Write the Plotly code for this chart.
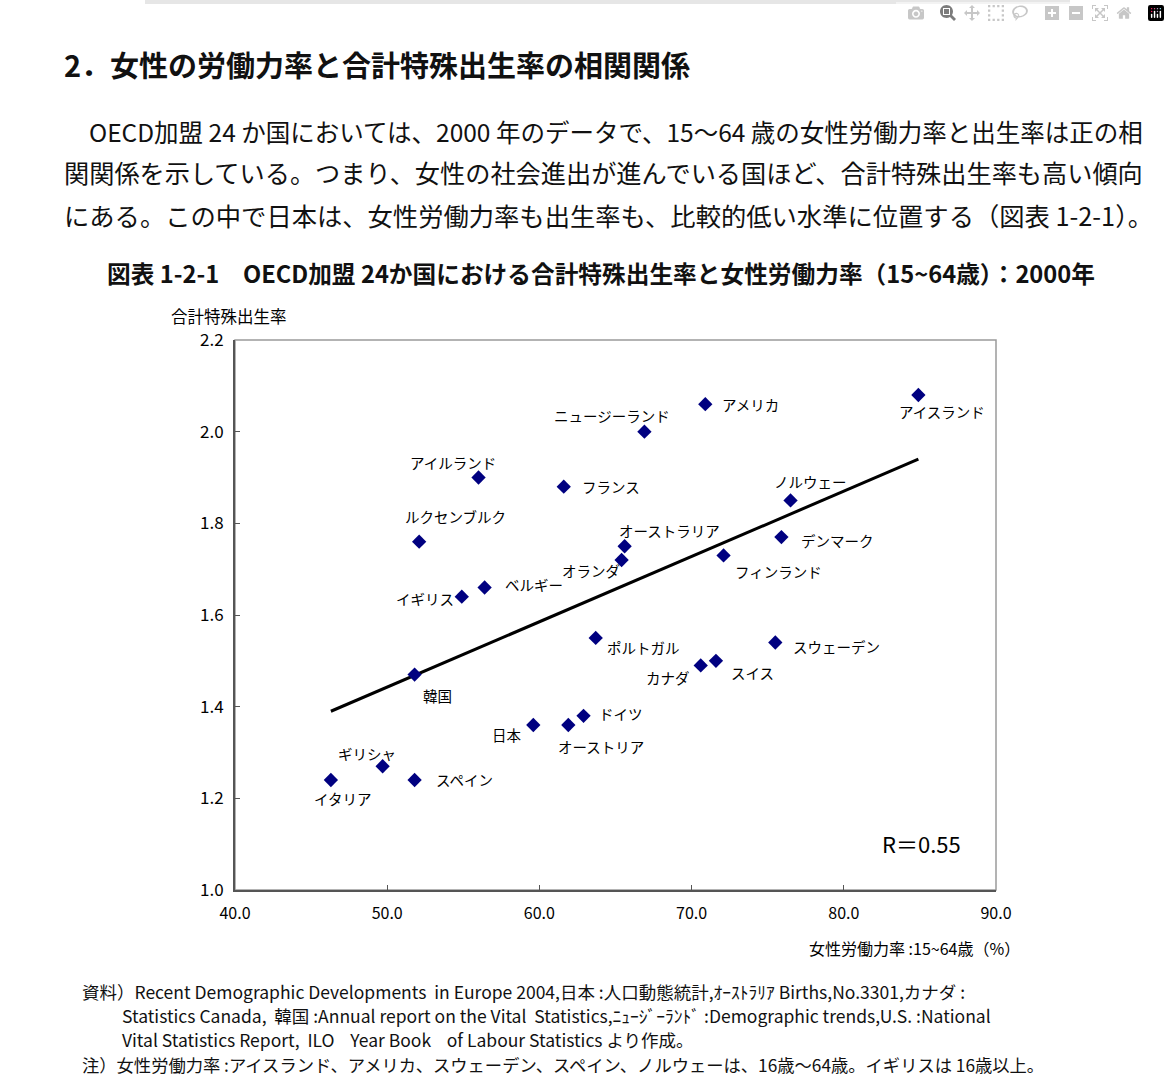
"""
OECD 24 countries: total fertility rate vs female labour force participation (2000).
"""

import plotly.graph_objects as go

# --- data ---------------------------------------------------------------------
countries = [
    "アイスランド", "アメリカ", "ニュージーランド", "アイルランド", "フランス",
    "ノルウェー", "デンマーク", "ルクセンブルク", "オーストラリア", "オランダ",
    "フィンランド", "ベルギー", "イギリス", "ポルトガル", "スウェーデン",
    "スイス", "カナダ", "韓国", "ドイツ", "日本",
    "オーストリア", "ギリシャ", "イタリア", "スペイン",
]
labor_rate = [
    84.9, 70.9, 66.9, 56.0, 61.6,
    76.5, 75.9, 52.1, 65.6, 65.4,
    72.1, 56.4, 54.9, 63.7, 75.5,
    71.6, 70.6, 51.8, 62.9, 59.6,
    61.9, 49.7, 46.3, 51.8,
]
fertility = [
    2.08, 2.06, 2.00, 1.90, 1.88,
    1.85, 1.77, 1.76, 1.75, 1.72,
    1.73, 1.66, 1.64, 1.55, 1.54,
    1.50, 1.49, 1.47, 1.38, 1.36,
    1.36, 1.27, 1.24, 1.24,
]

trend_x = [46.3, 84.9]
trend_y = [1.39, 1.94]

x_ticks = [40, 50, 60, 70, 80, 90]
x_tick_labels = ["40.0", "50.0", "60.0", "70.0", "80.0", "90.0"]
y_ticks = [1.0, 1.2, 1.4, 1.6, 1.8, 2.0, 2.2]
y_tick_labels = ["1.0", "1.2", "1.4", "1.6", "1.8", "2.0", "2.2"]

# --- layout constants ---------------------------------------------------------
W, H = 1170, 1090
GOTHIC = "Noto Sans CJK JP"
NAVY = "#000080"
NB = "\u00a0"  # keeps the wide gaps of the original footnote

# label offset from its marker in pixels (dx right, dy down)
LABEL_OFFSET = {
    "アイスランド": (24, 16), "アメリカ": (45, 0), "ニュージーランド": (-32, -16),
    "アイルランド": (-26, -15), "フランス": (47, 0), "ノルウェー": (20, -19),
    "デンマーク": (56, 3), "ルクセンブルク": (36, -25), "オーストラリア": (45, -16),
    "オランダ": (-31, 10), "フィンランド": (55, 16), "ベルギー": (49, -3),
    "イギリス": (-37, 2), "ポルトガル": (48, 10), "スウェーデン": (61, 4),
    "スイス": (37, 12), "カナダ": (-33, 12), "韓国": (23, 21),
    "ドイツ": (37, -2), "日本": (-26, 9), "オーストリア": (33, 21),
    "ギリシャ": (-16, -13), "イタリア": (12, 18), "スペイン": (50, -1),
}


def px(x):
    return x / W


def py(y):
    return 1 - y / H


fig = go.Figure()
fig.add_trace(
    go.Scatter(
        x=trend_x, y=trend_y, mode="lines",
        line=dict(color="black", width=3), hoverinfo="skip",
    )
)
fig.add_trace(
    go.Scatter(
        x=labor_rate, y=fertility, mode="markers", text=countries,
        marker=dict(symbol="diamond", size=11, color=NAVY),
        hovertemplate="%{text}<br>%{x}, %{y}<extra></extra>",
    )
)

annotations = []
for name, xv, yv in zip(countries, labor_rate, fertility):
    dx, dy = LABEL_OFFSET[name]
    annotations.append(dict(
        x=xv, y=yv, xref="x", yref="y", text=name, showarrow=False,
        xanchor="center", yanchor="middle",
        xshift=dx, yshift=-dy, font=dict(family=GOTHIC, size=14.5, color="black"),
    ))

annotations.append(dict(
    x=px(921), y=py(843), xref="paper", yref="paper", text="R＝0.55",
    xanchor="center", yanchor="middle",
    showarrow=False, font=dict(family=GOTHIC, size=22, color="black"),
))
annotations.append(dict(
    x=px(229), y=py(316), xref="paper", yref="paper", text="合計特殊出生率",
    xanchor="center", yanchor="middle",
    showarrow=False, font=dict(family=GOTHIC, size=16.5, color="black"),
))
annotations.append(dict(
    x=px(1022), y=py(948), xref="paper", yref="paper", xanchor="right", yanchor="middle",
    text="女性労働力率 :15~64歳（%）",
    showarrow=False, font=dict(family=GOTHIC, size=16, color="black"),
))

# page text: heading, paragraph, figure caption, sources/notes
page_text = [
    (62, 64, "2．女性の労働力率と合計特殊出生率の相関関係", 29, 700),
    (87, 131, "OECD加盟 24 か国においては、2000 年のデータで、15～64 歳の女性労働力率と出生率は正の相", 24.5, 400),
    (62, 172, "関関係を示している。つまり、女性の社会進出が進んでいる国ほど、合計特殊出生率も高い傾向", 25.2, 400),
    (62, 215, "にある。この中で日本は、女性労働力率も出生率も、比較的低い水準に位置する（図表 1-2-1）。", 25.3, 400),
    (105, 273, "図表 1-2-1　OECD加盟 24か国における合計特殊出生率と女性労働力率（15~64歳）：2000年", 23.7, 700),
    (80, 991, "資料）Recent Demographic Developments" + NB + " in Europe 2004,日本 :人口動態統計,ｵｰｽﾄﾗﾘｱ Births,No.3301,カナダ :", 17.5, 400),
    (120, 1015, "Statistics Canada," + NB + " 韓国 :Annual report on the Vital" + NB + " Statistics,ﾆｭｰｼﾞｰﾗﾝﾄﾞ :Demographic trends,U.S. :National", 17.5, 400),
    (120, 1039, "Vital Statistics Report," + NB + " ILO" + NB * 3 + " Year Book" + NB * 3 + " of Labour Statistics より作成。", 17.5, 400),
    (80, 1064, "注）女性労働力率 :アイスランド、アメリカ、スウェーデン、スペイン、ノルウェーは、16歳～64歳。イギリスは 16歳以上。", 17.3, 400),
]
for x0, y0, txt, size, weight in page_text:
    annotations.append(dict(
        x=px(x0), y=py(y0), xref="paper", yref="paper", xanchor="left", yanchor="middle",
        text=txt, showarrow=False,
        font=dict(family=GOTHIC, size=size, color="#111111", weight=weight),
    ))

fig.update_layout(
    width=W, height=H,
    margin=dict(l=0, r=0, t=0, b=0, pad=0, autoexpand=False),
    paper_bgcolor="white", plot_bgcolor="white",
    showlegend=False,
    font=dict(family=GOTHIC, color="black"),
    annotations=annotations,
    shapes=[
        # faint rule at top of the page
        dict(type="rect", xref="paper", yref="paper", x0=px(145), x1=px(1070),
             y0=py(4), y1=py(0), line=dict(width=0), fillcolor="#e6e6e6"),
        # light frame round the plot area
        dict(type="rect", xref="x domain", yref="y domain", x0=0, x1=1, y0=0, y1=1,
             line=dict(color="#9a9a9a", width=1.5), layer="below"),
    ],
    xaxis=dict(
        domain=[px(235), px(996)], range=[40, 90], automargin=False,
        tickmode="array", tickvals=x_ticks, ticktext=x_tick_labels,
        ticks="inside", ticklen=5, tickcolor="#555555",
        showline=True, linecolor="#555555", linewidth=2,
        showgrid=False, zeroline=False, ticklabelstandoff=8,
        tickfont=dict(family=GOTHIC, size=16, color="black"),
    ),
    yaxis=dict(
        domain=[py(890), py(340)], range=[1.0, 2.2], automargin=False,
        tickmode="array", tickvals=y_ticks, ticktext=y_tick_labels,
        ticks="inside", ticklen=5, tickcolor="#555555",
        showline=True, linecolor="#555555", linewidth=2,
        showgrid=False, zeroline=False, ticklabelstandoff=6,
        tickfont=dict(family=GOTHIC, size=17, color="black"),
    ),
)

fig.write_html("out.html", post_script="document.body.style.margin='0';")
